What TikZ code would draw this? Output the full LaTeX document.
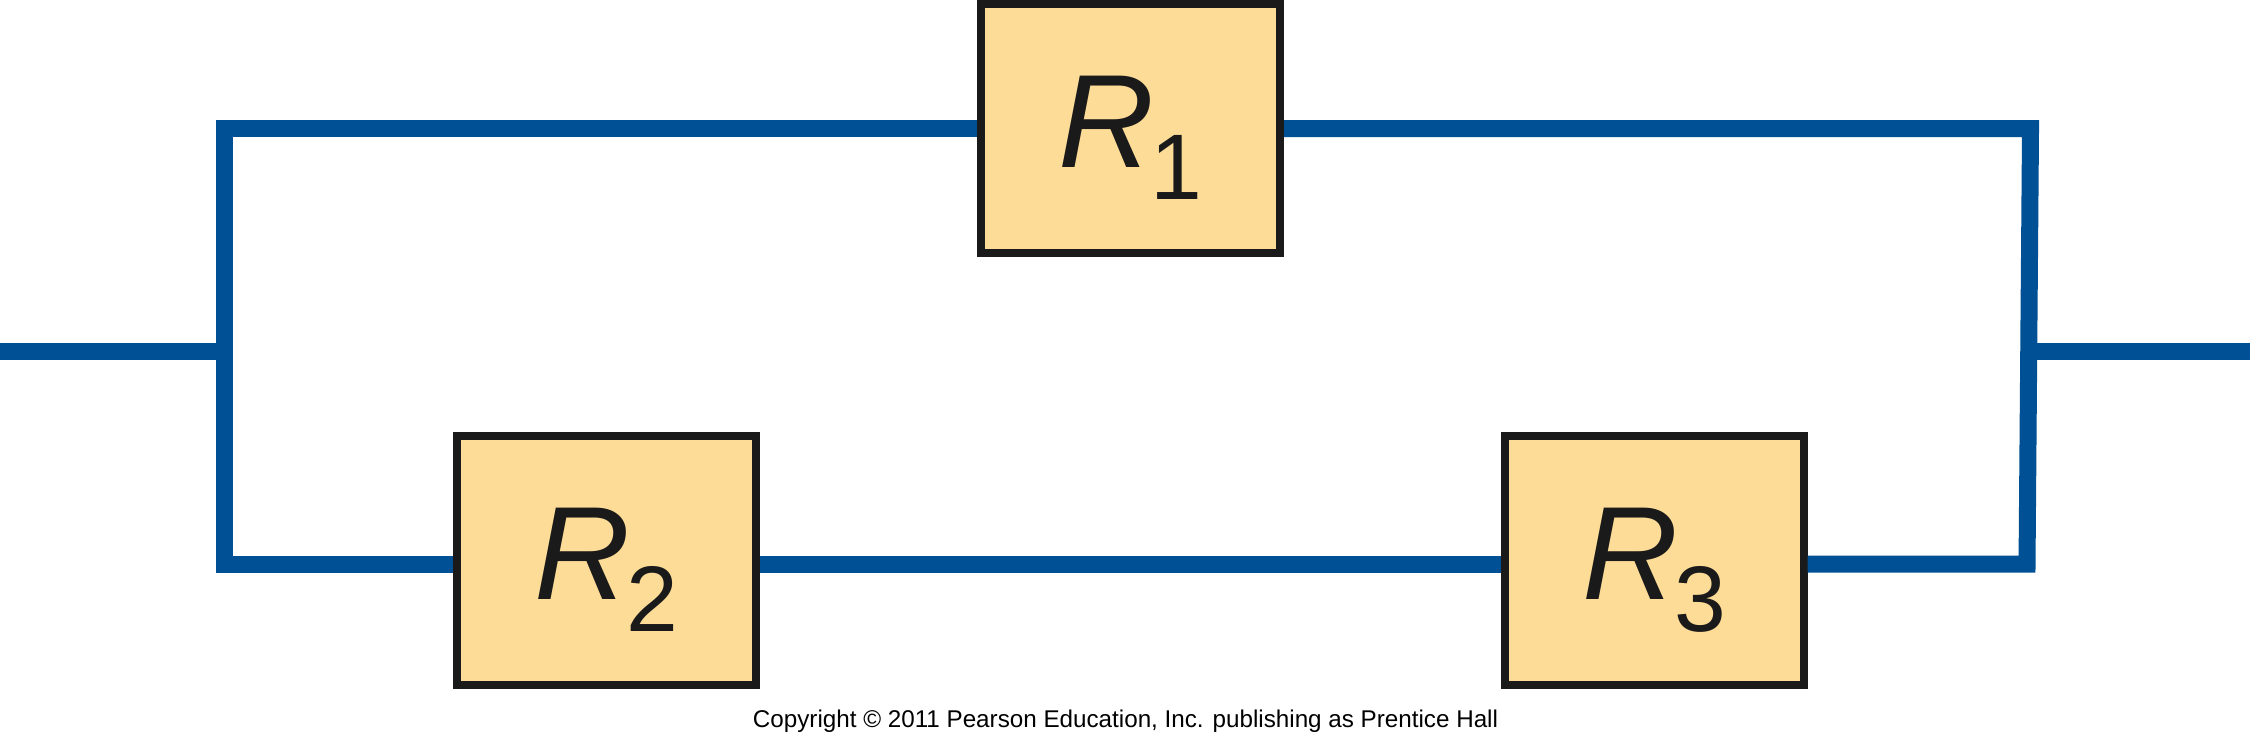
\documentclass[tikz,border=0pt]{standalone}
\usepackage{fontspec}
\setmainfont{Liberation Sans}
\usepackage{xcolor}
\usetikzlibrary{positioning}
\definecolor{wireblue}{RGB}{0,80,149}
\definecolor{boxfill}{RGB}{253,220,151}
\definecolor{boxedge}{RGB}{26,26,26}
\newcommand{\Rlabel}[1]{\textit{R}\kern-0.04cm\raisebox{-0.32cm}{\fontsize{26.5pt}{28pt}\selectfont #1}}

\begin{document}
\begin{tikzpicture}[
        wire/.style={draw=wireblue, line width=0.17cm},
        box/.style={rectangle, draw=boxedge, fill=boxfill, line width=0.08cm, inner sep=0pt,
            minimum width=2.99cm, minimum height=2.485cm,
            text=boxedge, text height=0.96cm, text depth=0.18cm,
            font=\fontsize{37.8pt}{40pt}\selectfont}
    ]
        \useasboundingbox (0,0) rectangle (22.5,7.52);

        \coordinate (topL) at (2.24,6.235);
        \coordinate (topR) at (20.305,6.235);
        \coordinate (botL) at (2.24,1.88);
        \coordinate (botR) at (20.27,1.88);
        \coordinate (inL) at (0,4.01);
        \coordinate (joinL) at (2.24,4.01);
        \coordinate (outR) at (22.5,4.01);
        \coordinate (joinR) at (20.29,4.01);

        \node[box] (r1) at (11.305,6.235) {\Rlabel{1}};
        \node[box] (r2) at (6.065,1.913) {\Rlabel{2}};
        \node[box, right=7.405cm of r2] (r3) {\Rlabel{3}};

        % wires stop at the box edges
        \draw[wire] (inL) -- (joinL);
        \draw[wire] (joinR) -- (outR);
        \draw[wire] (r1.west) -- (topL) -- (botL) -- (r2.west |- botL);
        \draw[wire] (r2.east |- botL) -- (r3.west |- botL);
        \draw[wire] (r3.east |- botR) -- (botR) -- (topR) -- (r1.east);

        \node[anchor=base, font=\fontsize{6.89pt}{8pt}\selectfont] (copy) at (11.255,0.25)
            {Copyright © 2011 Pearson Education, Inc. publishing as Prentice Hall};
    \end{tikzpicture}
\end{document}
